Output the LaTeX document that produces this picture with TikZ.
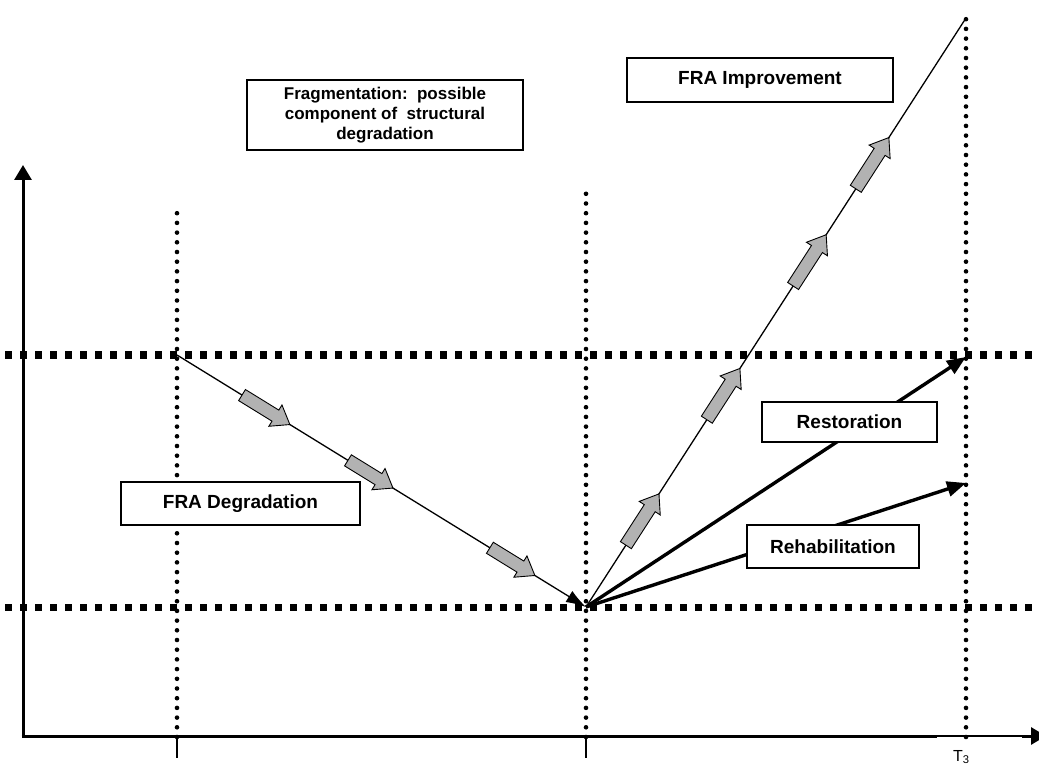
\documentclass[tikz,border=0pt]{standalone}
\usepackage{fontspec}
\setmainfont{Liberation Sans}
\usetikzlibrary{calc,arrows.meta}
\newcommand{\grayarrow}[4]{%
  \path ($(#1)!#3!(#2)$) coordinate (ga-t) ($(#1)!#4!(#2)$) coordinate (ga-h);
  \path ($(ga-h)!17pt!(ga-t)$) coordinate (ga-n);
  \draw[garrow] ($(ga-t)!6.5pt!90:(ga-h)$) -- ($(ga-n)!6.5pt!-90:(ga-t)$)
    -- ($(ga-n)!12.5pt!-90:(ga-t)$) -- (ga-h) -- ($(ga-n)!12.5pt!90:(ga-t)$)
    -- ($(ga-n)!6.5pt!90:(ga-t)$) -- ($(ga-t)!6.5pt!-90:(ga-h)$) -- cycle;
}
\begin{document}
\begin{tikzpicture}[x=1pt,y=-1pt,
  vdots/.style={line width=4.6pt, line cap=round, dash pattern=on 0pt off 9.7pt},
  hdots/.style={line width=7pt, dash pattern=on 7pt off 8pt},
  garrow/.style={draw=black, line width=0.9pt, fill=black!30, line join=miter},
  thinline/.style={line width=1.3pt},
  thickarrow/.style={line width=3.4pt, -{Triangle[length=19pt,width=15pt]}},
  lbl/.style={draw, line width=1.5pt, fill=white, inner sep=0pt,
    font=\bfseries\fontsize{19}{22}\selectfont, align=center},
  axis/.style={line width=3pt}]
\useasboundingbox (0,0) rectangle (1039,767);
% coordinates
\coordinate (P1) at (177,355);
\coordinate (P2) at (586,607);
\coordinate (P3) at (966,18);
\coordinate (R) at (966,357);
\coordinate (H) at (966,483);
\coordinate (v1b) at (177,737); \coordinate (v1t) at (177,210);
\coordinate (v2b) at (586,737); \coordinate (v2t) at (586,190);
\coordinate (v3b) at (966,737); \coordinate (v3t) at (966,18);
\coordinate (h1l) at (5,355); \coordinate (h1r) at (1036,355);
\coordinate (h2l) at (5,607); \coordinate (h2r) at (1036,607);
\coordinate (O) at (23,736);
\coordinate (Yt) at (23,165);
\coordinate (Xm) at (937,736);
\coordinate (Xn) at (1022,736);
\coordinate (Xe) at (1046,736);
% dotted grid
\draw[vdots] (v1b) -- (v1t);
\draw[vdots] (v2b) -- (v2t);
\draw[vdots] (v3b) -- (v3t);
\draw[hdots] (h1l) -- (h1r);
\draw[hdots] (h2l) -- (h2r);
% axes
\draw[axis, -{Triangle[length=15pt,width=17pt]}] (O) -- (Yt);
\draw[axis] ($(O)+(-1.5,0)$) -- (Xm);
\draw[line width=1.3pt] (Xm) -- (Xn);
\draw[axis, -{Triangle[length=15pt,width=17pt]}] (Xn) -- (Xe);
\draw[line width=2pt] (177,736) coordinate (tk1) -- (177,758) coordinate (tk1e);
\draw[line width=2pt] (586,736) coordinate (tk2) -- (586,758) coordinate (tk2e);
% main lines
\draw[thinline, -{Latex[length=20pt,width=13pt]}] (P1) -- (P2);
\draw[thinline] (P2) -- (P3);
\draw[thickarrow] (P2) -- (R);
\draw[thickarrow] (P2) -- (H);
% gray block arrows
\grayarrow{P1}{P2}{0.159}{0.276}
\grayarrow{P1}{P2}{0.418}{0.528}
\grayarrow{P1}{P2}{0.765}{0.875}
\grayarrow{P2}{P3}{0.105}{0.192}
\grayarrow{P2}{P3}{0.318}{0.405}
\grayarrow{P2}{P3}{0.545}{0.632}
\grayarrow{P2}{P3}{0.71}{0.797}
% labels
\node[lbl, minimum width=276pt, minimum height=70pt, font=\bfseries\fontsize{17}{20}\selectfont] (frag) at (385,115)
  {Fragmentation:\ \ possible\\component of\ \ structural\\degradation};
\node[lbl, minimum width=266pt, minimum height=44pt] (impr) at (760,80) {FRA Improvement};
\node[lbl, minimum width=175pt, minimum height=40pt] (rest) at (849.5,422) {Restoration};
\node[lbl, minimum width=172pt, minimum height=43pt] (rehab) at (833,546.5) {Rehabilitation};
\node[lbl, minimum width=239pt, minimum height=43pt] (degr) at (240.5,503.5) {FRA Degradation};
\node[anchor=north west, inner sep=0pt, font=\fontsize{16}{18}\selectfont] (t3) at (953,750) {T\textsubscript{3}};
\end{tikzpicture}
\end{document}
